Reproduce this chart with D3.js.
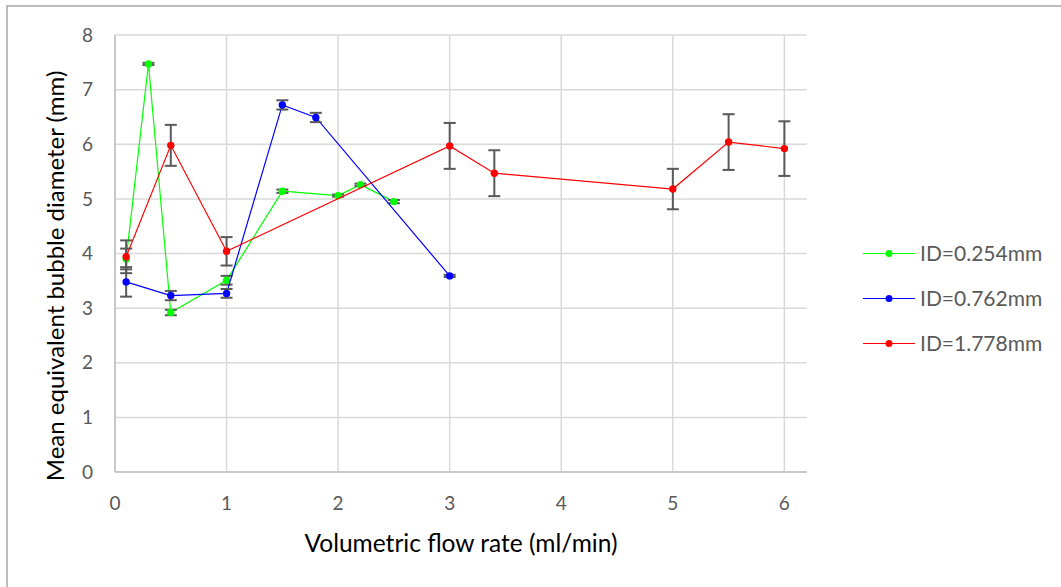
<html>
<head>
<script src="https://cdn.jsdelivr.net/npm/d3@7"></script>
</head>
<body style="margin:0; padding:0; background:#fff;">
<script>
// data
var greenX = [0.1, 0.3, 0.5, 1, 1.5, 2, 2.2, 2.5];
var greenY = [3.9, 7.47, 2.92, 3.51, 5.14, 5.06, 5.26, 4.95];
var greenErr = [0.19, 0.02, 0.05, 0.08, 0.03, 0.02, 0.02, 0.03];

var blueX = [0.1, 0.5, 1, 1.5, 1.8, 3];
var blueY = [3.48, 3.23, 3.27, 6.72, 6.49, 3.59];
var blueErr = [0.27, 0.085, 0.08, 0.085, 0.085, 0.02];

var redX = [0.1, 0.5, 1, 3, 3.4, 5, 5.5, 6];
var redY = [3.94, 5.98, 4.04, 5.97, 5.47, 5.18, 6.04, 5.92];
var redErr = [0.3, 0.375, 0.26, 0.42, 0.42, 0.37, 0.51, 0.5];

var seriesNames = ["ID=0.254mm", "ID=0.762mm", "ID=1.778mm"];
var seriesColors = ["#00ff00", "#0000ff", "#ff0000"];
var xTicks = [0, 1, 2, 3, 4, 5, 6];
var yTicks = [0, 1, 2, 3, 4, 5, 6, 7, 8];

var width = 1061, height = 587;
var fontFam = "Lato, 'Open Sans', sans-serif";

var svg = d3.select("body").append("svg")
	.attr("width", width)
	.attr("height", height);

// outer chart frame (runs off the picture right and bottom)
svg.append("rect")
	.attr("x", 7).attr("y", 6)
	.attr("width", 1100).attr("height", 700)
	.attr("fill", "none").attr("stroke", "#a6a6a6").attr("stroke-width", 1.5);

var x = d3.scaleLinear().domain([0, 6.2]).range([115, 806.7]);
var y = d3.scaleLinear().domain([0, 8]).range([472, 35]);

// grid
svg.append("g").selectAll("line.h").data(yTicks).enter().append("line")
	.attr("x1", x(0)).attr("x2", x(6.2))
	.attr("y1", function(d) { return y(d); }).attr("y2", function(d) { return y(d); })
	.attr("stroke", "#d9d9d9").attr("stroke-width", 1.5);
svg.append("g").selectAll("line.v").data(xTicks).enter().append("line")
	.attr("x1", function(d) { return x(d); }).attr("x2", function(d) { return x(d); })
	.attr("y1", y(0)).attr("y2", y(8))
	.attr("stroke", "#d9d9d9").attr("stroke-width", 1.5);

// axes lines
svg.append("line").attr("x1", x(0)).attr("x2", x(6.2)).attr("y1", y(0)).attr("y2", y(0))
	.attr("stroke", "#bfbfbf").attr("stroke-width", 1.5);
svg.append("line").attr("x1", x(0)).attr("x2", x(0)).attr("y1", y(0)).attr("y2", y(8))
	.attr("stroke", "#bfbfbf").attr("stroke-width", 1.5);

// tick labels
svg.append("g").selectAll("text").data(yTicks).enter().append("text")
	.attr("x", 93).attr("y", function(d) { return y(d); })
	.attr("dy", "0.35em").attr("text-anchor", "end")
	.attr("font-family", fontFam).attr("font-size", 19).attr("fill", "#595959")
	.text(function(d) { return d; });
svg.append("g").selectAll("text").data(xTicks).enter().append("text")
	.attr("x", function(d) { return x(d); }).attr("y", 503)
	.attr("dy", "0.35em").attr("text-anchor", "middle")
	.attr("font-family", fontFam).attr("font-size", 19).attr("fill", "#595959")
	.text(function(d) { return d; });

// axis titles
svg.append("text")
	.attr("x", 461).attr("y", 543)
	.attr("dy", "0.35em").attr("text-anchor", "middle")
	.attr("font-family", fontFam).attr("font-size", 24.5).attr("fill", "#000")
	.text("Volumetric flow rate (ml/min)");
svg.append("text")
	.attr("transform", "translate(56,276) rotate(-90)")
	.attr("dy", "0.35em").attr("text-anchor", "middle")
	.attr("font-family", fontFam).attr("font-size", 24).attr("fill", "#000")
	.text("Mean equivalent bubble diameter (mm)");

function drawSeries(xs, ys, errs, color) {
	var pts = xs.map(function(v, i) { return {x: v, y: ys[i], e: errs[i]}; });
	var g = svg.append("g");
	var line = d3.line().x(function(d) { return x(d.x); }).y(function(d) { return y(d.y); });
	g.append("path").datum(pts).attr("d", line)
		.attr("fill", "none").attr("stroke", color).attr("stroke-width", 1.2);
	var eb = g.selectAll("g.err").data(pts).enter().append("g")
		.attr("stroke", "#595959").attr("stroke-width", 2);
	eb.append("line")
		.attr("x1", function(d) { return x(d.x); }).attr("x2", function(d) { return x(d.x); })
		.attr("y1", function(d) { return y(d.y - d.e); }).attr("y2", function(d) { return y(d.y + d.e); });
	eb.append("line")
		.attr("x1", function(d) { return x(d.x) - 6; }).attr("x2", function(d) { return x(d.x) + 6; })
		.attr("y1", function(d) { return y(d.y + d.e); }).attr("y2", function(d) { return y(d.y + d.e); });
	eb.append("line")
		.attr("x1", function(d) { return x(d.x) - 6; }).attr("x2", function(d) { return x(d.x) + 6; })
		.attr("y1", function(d) { return y(d.y - d.e); }).attr("y2", function(d) { return y(d.y - d.e); });
	g.selectAll("circle").data(pts).enter().append("circle")
		.attr("cx", function(d) { return x(d.x); }).attr("cy", function(d) { return y(d.y); })
		.attr("r", 3.7).attr("fill", color);
}

drawSeries(greenX, greenY, greenErr, seriesColors[0]);
drawSeries(blueX, blueY, blueErr, seriesColors[1]);
drawSeries(redX, redY, redErr, seriesColors[2]);

// legend
var legend = svg.append("g").selectAll("g").data(seriesNames).enter().append("g")
	.attr("transform", function(d, i) { return "translate(0," + (253.5 + i * 45) + ")"; });
legend.append("line").attr("x1", 863).attr("x2", 915).attr("y1", 0).attr("y2", 0)
	.attr("stroke", function(d, i) { return seriesColors[i]; }).attr("stroke-width", 1.2);
legend.append("circle").attr("cx", 889).attr("cy", 0).attr("r", 3.5)
	.attr("fill", function(d, i) { return seriesColors[i]; });
legend.append("text").attr("x", 920).attr("y", 0).attr("dy", "0.35em")
	.attr("font-family", fontFam).attr("font-size", 21).attr("fill", "#595959")
	.text(function(d) { return d; });
</script>
</body>
</html>
